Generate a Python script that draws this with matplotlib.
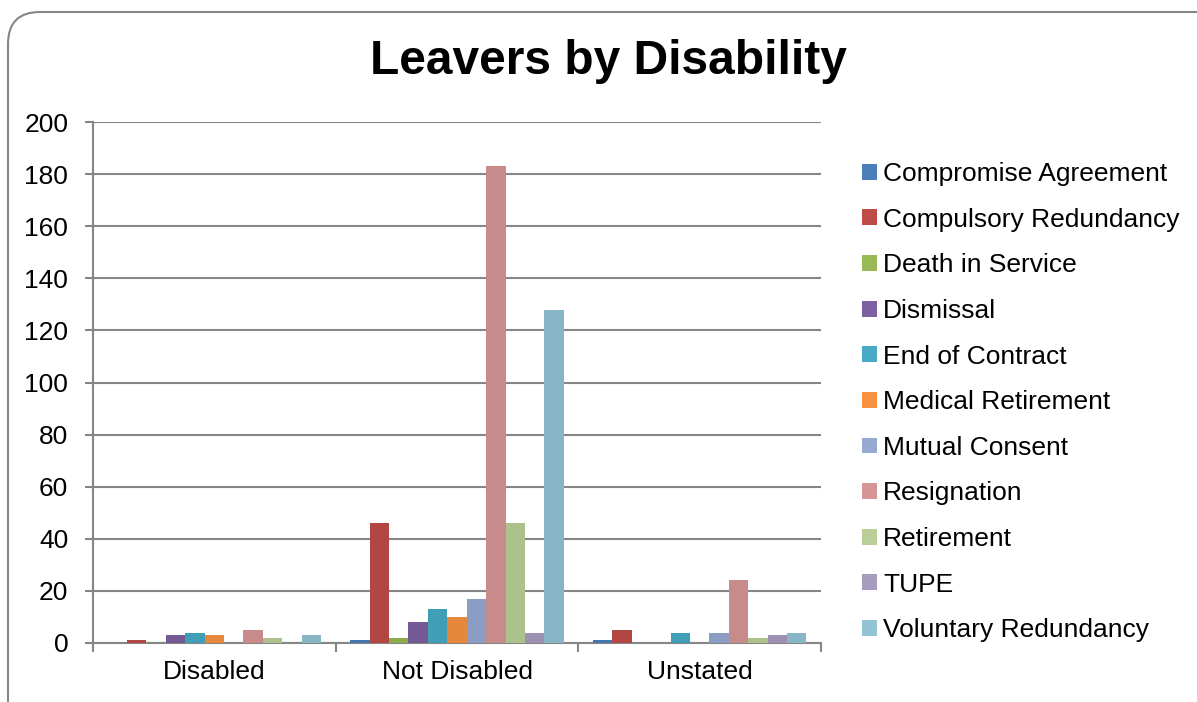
import matplotlib
matplotlib.use("Agg")
import matplotlib.pyplot as plt
import numpy as np
from matplotlib.patches import FancyBboxPatch, Patch
from matplotlib.colors import to_rgb
from matplotlib.transforms import IdentityTransform

plt.rcParams['font.family'] = ['Liberation Sans', 'DejaVu Sans']

categories = ["Disabled", "Not Disabled", "Unstated"]
reasons = ["Compromise Agreement", "Compulsory Redundancy", "Death in Service",
           "Dismissal", "End of Contract", "Medical Retirement", "Mutual Consent",
           "Resignation", "Retirement", "TUPE", "Voluntary Redundancy"]

compromise_agreement = [0, 1, 1]
compulsory_redundancy = [1, 46, 5]
death_in_service = [0, 2, 0]
dismissal = [3, 8, 0]
end_of_contract = [4, 13, 4]
medical_retirement = [3, 10, 0]
mutual_consent = [0, 17, 4]
resignation = [5, 183, 24]
retirement = [2, 46, 2]
tupe = [0, 4, 3]
voluntary_redundancy = [3, 128, 4]

series = [compromise_agreement, compulsory_redundancy, death_in_service, dismissal,
          end_of_contract, medical_retirement, mutual_consent, resignation,
          retirement, tupe, voluntary_redundancy]

colors = ["#4A7EBB", "#BE4B48", "#98B954", "#7D60A0", "#46AAC5", "#F69240",
          "#95A9D2", "#D69595", "#BACF97", "#A89BC0", "#93C4D6"]

W, H = 1197, 702
fig = plt.figure(figsize=(W / 100, H / 100), dpi=100)

# rounded chart-area border
frame = FancyBboxPatch((8, -40), W + 40, 690 + 40,
                       boxstyle="round,pad=0,rounding_size=32",
                       transform=IdentityTransform(), facecolor="none",
                       edgecolor="#868686", linewidth=1.5, zorder=5)
fig.patches.append(frame)

ax = fig.add_axes([93 / W, (H - 643) / H, (821 - 93) / W, (643 - 122) / H])
ax.set_facecolor("none")

n = len(series)
bar_w = 1.0 / (n + 1.5)
x = np.arange(len(categories)) + 0.5
for i, (vals, c) in enumerate(zip(series, colors)):
    offs = (i - (n - 1) / 2) * bar_w
    shade = tuple(v * 0.93 for v in to_rgb(c))
    ax.bar(x + offs, vals, width=bar_w, color=shade,
           edgecolor="none", linewidth=0, zorder=3)

ax.set_xlim(0, 3)
ax.set_ylim(0, 200)
ax.set_yticks(np.arange(0, 201, 20))
ax.yaxis.grid(True, color="#868686", linewidth=1.5, zorder=0)
ax.set_axisbelow(True)

ax.set_xticks([0, 1, 2, 3])
ax.set_xticklabels([])
ax.set_xticks(x, minor=True)
ax.set_xticklabels(categories, minor=True, fontsize=19)
ax.tick_params(axis="x", which="minor", length=0, pad=12)
ax.tick_params(axis="x", which="major", length=6.5, width=1.5, color="#868686")
ax.tick_params(axis="y", length=5.8, width=1.5, color="#868686", labelsize=19, pad=12)

for side in ["top", "right"]:
    ax.spines[side].set_visible(False)
for side in ["left", "bottom"]:
    ax.spines[side].set_color("#868686")
    ax.spines[side].set_linewidth(1.5)

fig.text(608 / W, (H - 62) / H, "Leavers by Disability", ha="center", va="center",
         fontsize=34.5, fontweight="bold")

handles = [Patch(facecolor=c, edgecolor="none", label=r) for c, r in zip(colors, reasons)]
leg = fig.legend(handles=handles, loc="upper left",
                 bbox_to_anchor=(862 / W, (H - 162) / H),
                 frameon=False, fontsize=19, handlelength=0.55, handleheight=0.55,
                 handletextpad=0.25, labelspacing=0.82, borderaxespad=0,
                 borderpad=0)

fig.savefig("out.png", dpi=100)
